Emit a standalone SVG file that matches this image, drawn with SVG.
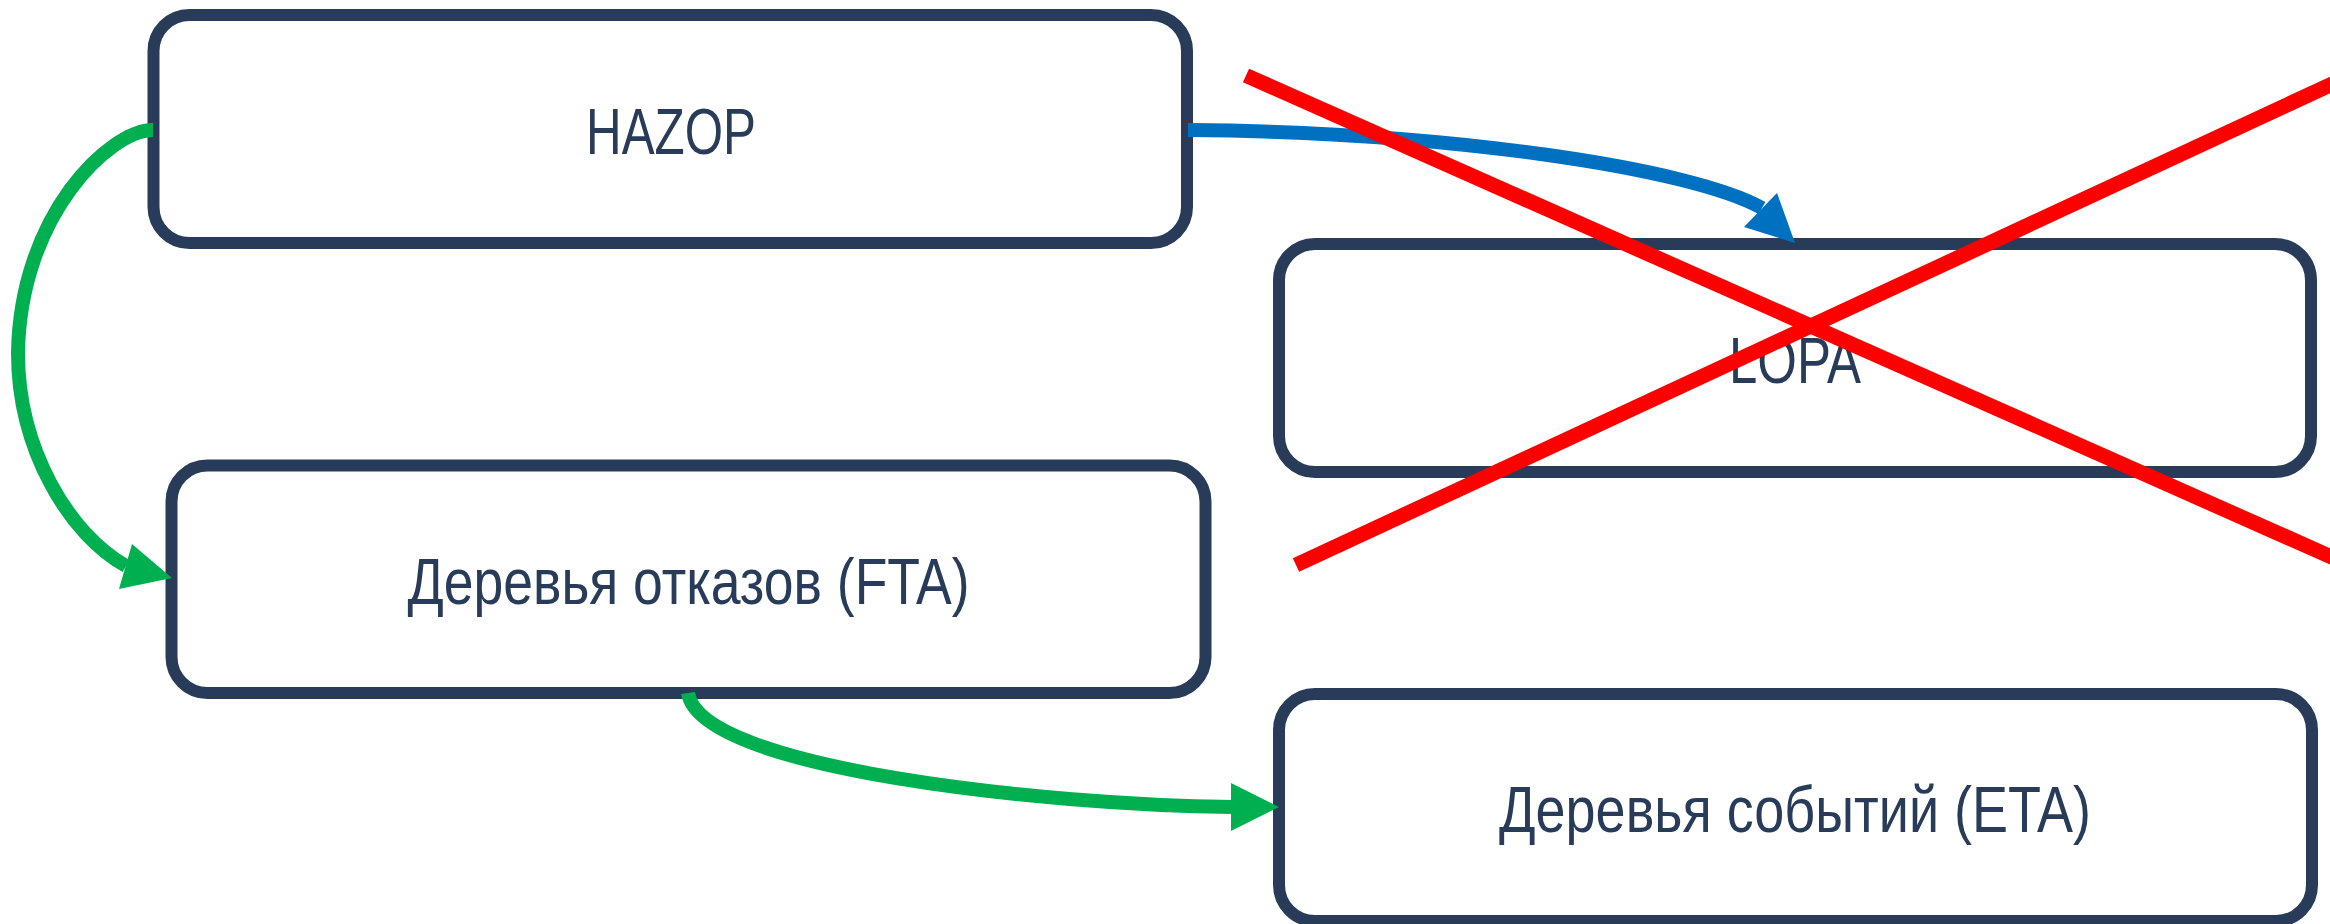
<svg xmlns="http://www.w3.org/2000/svg" width="2330" height="924" viewBox="0 0 2330 924">
  <style>
    .box { fill: #ffffff; stroke: #283c5a; stroke-width: 12; }
    .lbl { font-family: "Liberation Sans", Arial, sans-serif; font-size: 65px; fill: #283c5a; text-anchor: middle; }
    .g { fill: none; stroke: #00b050; stroke-width: 14; }
    .b { fill: none; stroke: #0070c0; stroke-width: 14; }
    .gh { fill: #00b050; }
    .bh { fill: #0070c0; }
    .x { stroke: #ff0000; stroke-width: 15; stroke-linecap: butt; }
  </style>
  <rect width="2330" height="924" fill="#ffffff"/>
  <g id="node-hazop">
    <rect class="box" x="153.5" y="15" width="1033.5" height="228" rx="36" ry="36"/>
    <text class="lbl" x="671" y="154" textLength="170" lengthAdjust="spacingAndGlyphs">HAZOP</text>
  </g>
  <g id="node-lopa">
    <rect class="box" x="1279" y="244" width="1032" height="228" rx="36" ry="36"/>
    <text class="lbl" x="1795" y="383" textLength="132" lengthAdjust="spacingAndGlyphs">LOPA</text>
  </g>
  <g id="node-fta">
    <rect class="box" x="171.5" y="465.5" width="1034" height="227.5" rx="36" ry="36"/>
    <text class="lbl" x="688.5" y="604" textLength="562" lengthAdjust="spacingAndGlyphs">Деревья отказов (FTA)</text>
  </g>
  <g id="node-eta">
    <rect class="box" x="1279" y="694" width="1033" height="227" rx="36" ry="36"/>
    <text class="lbl" x="1795" y="832" textLength="592" lengthAdjust="spacingAndGlyphs">Деревья событий (ETA)</text>
  </g>
  <g id="connectors">
    <path class="b" d="M1188,130 C1450,132 1690,168 1762,208"/>
    <polygon class="bh" points="1795,243 1777,193 1744,227"/>
    <path class="g" d="M153,130 C110,130 20,215 18,353 C18,450 70,535 126,566"/>
    <polygon class="gh" points="172,578 132,544 119,589"/>
    <path class="g" d="M688,693 C700,770 1050,805 1233,807"/>
    <polygon class="gh" points="1279,807 1231,783 1231,831"/>
  </g>
  <g id="cross">
    <line class="x" x1="1246" y1="75.5" x2="2345" y2="563"/>
    <line class="x" x1="1296" y1="565" x2="2345" y2="78"/>
  </g>
</svg>
